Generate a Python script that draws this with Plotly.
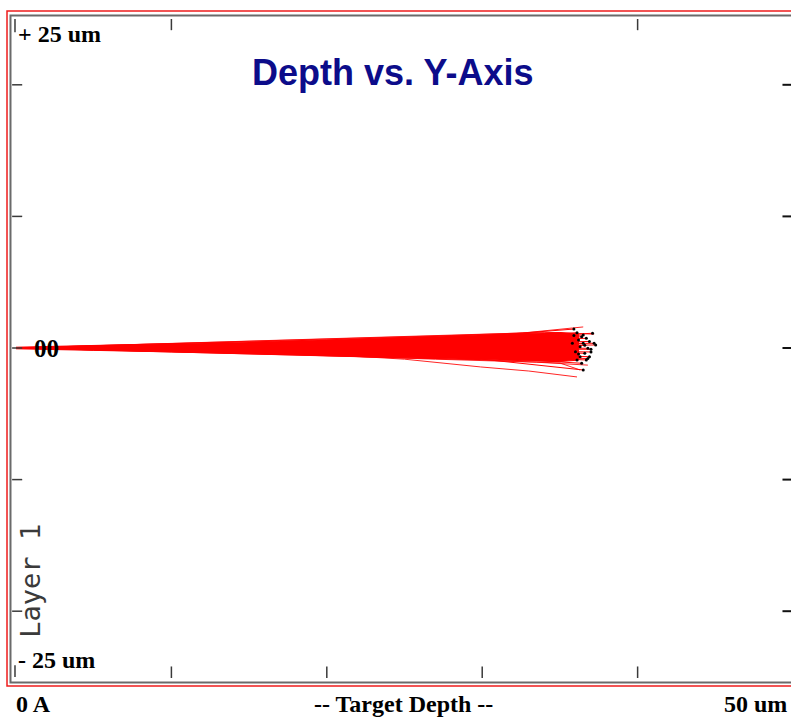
import plotly.graph_objects as go

# Depth (um) and lateral Y (um) of the ion-track cloud
core_depth = [0, 5, 10, 15, 20, 25, 30, 33, 35, 36.2]
core_top = [0.06, 0.18, 0.32, 0.46, 0.62, 0.80, 1.00, 1.08, 1.18, 1.05]
core_bot = [-0.06, -0.18, -0.30, -0.43, -0.56, -0.70, -0.88, -0.97, -1.03, -0.92]

# Final resting positions of individual ions
end_x = [35.9, 36.1, 36.5, 37.1, 36.2, 36.7, 36.5, 37.2, 36.3, 36.8,
         36.0, 36.6, 36.3, 36.9, 36.1, 36.7, 36.4, 36.5, 37.3, 35.8,
         36.9, 36.4, 37.0, 36.2, 36.6, 37.0, 35.9, 36.8]
end_y = [1.44, 1.16, 0.99, 1.12, 0.61, 0.74, 0.36, 0.36, 0.10, -0.02,
         -0.28, -0.40, -0.66, -0.66, -0.91, -0.91, -1.16, -1.67, 0.23, 0.36,
         0.50, 0.85, -0.30, -0.45, 0.20, -0.10, 0.95, -0.80]
# Lateral position of each of those tracks at 30 um depth
mid_y = [0.90, 0.75, 0.65, 0.70, 0.40, 0.50, 0.20, 0.25, 0.05, 0.00,
         -0.20, -0.25, -0.45, -0.40, -0.60, -0.55, -0.70, -0.85, 0.15, 0.25,
         0.30, 0.60, -0.20, -0.30, 0.10, -0.05, 0.70, -0.55]

# Stray tracks that leave the main bundle
stray_tracks = [
    ([0, 12, 20.8, 25, 29.9, 33, 36.1], [0, -0.30, -0.55, -0.85, -1.44, -1.75, -2.20]),
    ([0, 15, 23.9, 29.9, 35.0, 36.3], [0, -0.45, -0.76, -0.90, -1.14, -1.67]),
    ([0, 15, 25, 32.6, 35.8, 36.5], [0, 0.50, 0.85, 1.14, 1.52, 1.60]),
    ([0, 18, 27, 33.5, 36.8], [0, -0.50, -0.85, -1.08, -1.30]),
    ([0, 20, 28, 34.0, 37.2], [0, 0.65, 0.95, 1.20, 1.05]),
]

x_ticks = [10, 20, 30, 40]
y_ticks = [20, 10, 0, -10, -20]
top_ticks = [10, 40]

fig = go.Figure()

# main bundle of tracks
fig.add_trace(go.Scatter(
    x=core_depth + core_depth[::-1],
    y=core_top + core_bot[::-1],
    fill="toself", fillcolor="#ff0000",
    line=dict(color="#ff0000", width=1),
    mode="lines", hoverinfo="skip", showlegend=False))

for xs, ys in stray_tracks:
    fig.add_trace(go.Scatter(x=xs, y=ys, mode="lines",
                             line=dict(color="#ff0000", width=1),
                             opacity=0.85, showlegend=False, hoverinfo="skip"))

for ex, ey, my in zip(end_x, end_y, mid_y):
    fig.add_trace(go.Scatter(x=[30, ex], y=[my, ey], mode="lines",
                             line=dict(color="#ff0000", width=1),
                             showlegend=False, hoverinfo="skip"))

fig.add_trace(go.Scatter(x=end_x, y=end_y, mode="markers",
                         marker=dict(color="#000000", size=3),
                         showlegend=False, hoverinfo="skip"))

# zero-depth reference line
fig.add_trace(go.Scatter(x=[-0.1, 3], y=[0, 0], mode="lines",
                         line=dict(color="#ff0000", width=1.5),
                         showlegend=False, hoverinfo="skip"))

shapes = []
# outer red frame and inner grey frame
shapes.append(dict(type="rect", xref="paper", yref="paper",
                   x0=-0.0116, x1=1.03, y0=-0.0137, y1=1.0122,
                   line=dict(color="#ee1c1c", width=1.5)))
shapes.append(dict(type="rect", xref="paper", yref="paper",
                   x0=-0.0071, x1=1.03, y0=-0.0084, y1=1.0053,
                   line=dict(color="#6a6a6a", width=2)))

tick_col = "#3a3a3a"
for t in x_ticks:
    shapes.append(dict(type="line", xref="x", yref="paper", x0=t, x1=t,
                       y0=-0.0015, y1=0.016, line=dict(color=tick_col, width=1.5)))
for t in top_ticks:
    shapes.append(dict(type="line", xref="x", yref="paper", x0=t, x1=t,
                       y0=0.983, y1=1.0, line=dict(color=tick_col, width=1.5)))
for t in y_ticks:
    shapes.append(dict(type="line", xref="paper", yref="y", x0=-0.005, x1=0.008,
                       y0=t, y1=t, line=dict(color=tick_col, width=1.5)))
    shapes.append(dict(type="line", xref="paper", yref="y", x0=0.989, x1=1.0,
                       y0=t, y1=t, line=dict(color="#111111", width=2)))
# corner ticks at the axis ends
shapes.append(dict(type="line", xref="paper", yref="y", x0=-0.0013, x1=-0.0013,
                   y0=25, y1=24.0, line=dict(color=tick_col, width=1.5)))
shapes.append(dict(type="line", xref="paper", yref="y", x0=-0.0013, x1=-0.0013,
                   y0=-25.2, y1=-24.1, line=dict(color=tick_col, width=1.5)))

serif = dict(family="Liberation Serif", size=24, color="#000000")
ann = [
    dict(text="<b>Depth vs. Y-Axis</b>", x=0.4855, y=0.918, xref="paper", yref="paper",
         xanchor="center", yanchor="middle", showarrow=False,
         font=dict(family="Liberation Sans", size=36, color="#0c0c8a")),
    dict(text="<b>+ 25 um</b>", x=0.0, y=0.977, xref="paper", yref="paper",
         xanchor="left", yanchor="middle", showarrow=False, font=serif),
    dict(text="<b>00</b>", x=0.020, y=0, xref="paper", yref="y",
         xanchor="left", yanchor="middle", showarrow=False,
         font=dict(family="Liberation Serif", size=25, color="#000000")),
    dict(text="<b>- 25 um</b>", x=0.0, y=0.0258, xref="paper", yref="paper",
         xanchor="left", yanchor="middle", showarrow=False, font=serif),
    dict(text="<b>0 A</b>", x=-0.003, y=-0.041, xref="paper", yref="paper",
         xanchor="left", yanchor="middle", showarrow=False, font=serif),
    dict(text="<b>-- Target Depth --</b>", x=0.5, y=-0.041, xref="paper", yref="paper",
         xanchor="center", yanchor="middle", showarrow=False, font=serif),
    dict(text="<b>50 um</b>", x=0.997, y=-0.041, xref="paper", yref="paper",
         xanchor="right", yanchor="middle", showarrow=False, font=serif),
    dict(text="Layer 1", x=0.019, y=0.146, xref="paper", yref="paper",
         textangle=-90, xanchor="center", yanchor="middle", showarrow=False,
         font=dict(family="DejaVu Sans Mono", size=27, color="#3a3a3a")),
]

fig.update_layout(
    width=791, height=717,
    margin=dict(l=16, r=0, t=19, b=40),
    paper_bgcolor="white", plot_bgcolor="white",
    xaxis=dict(range=[0, 49.87], visible=False, fixedrange=True),
    yaxis=dict(range=[-25, 25], visible=False, fixedrange=True),
    shapes=shapes, annotations=ann, showlegend=False,
)

fig.write_html("out.html")
